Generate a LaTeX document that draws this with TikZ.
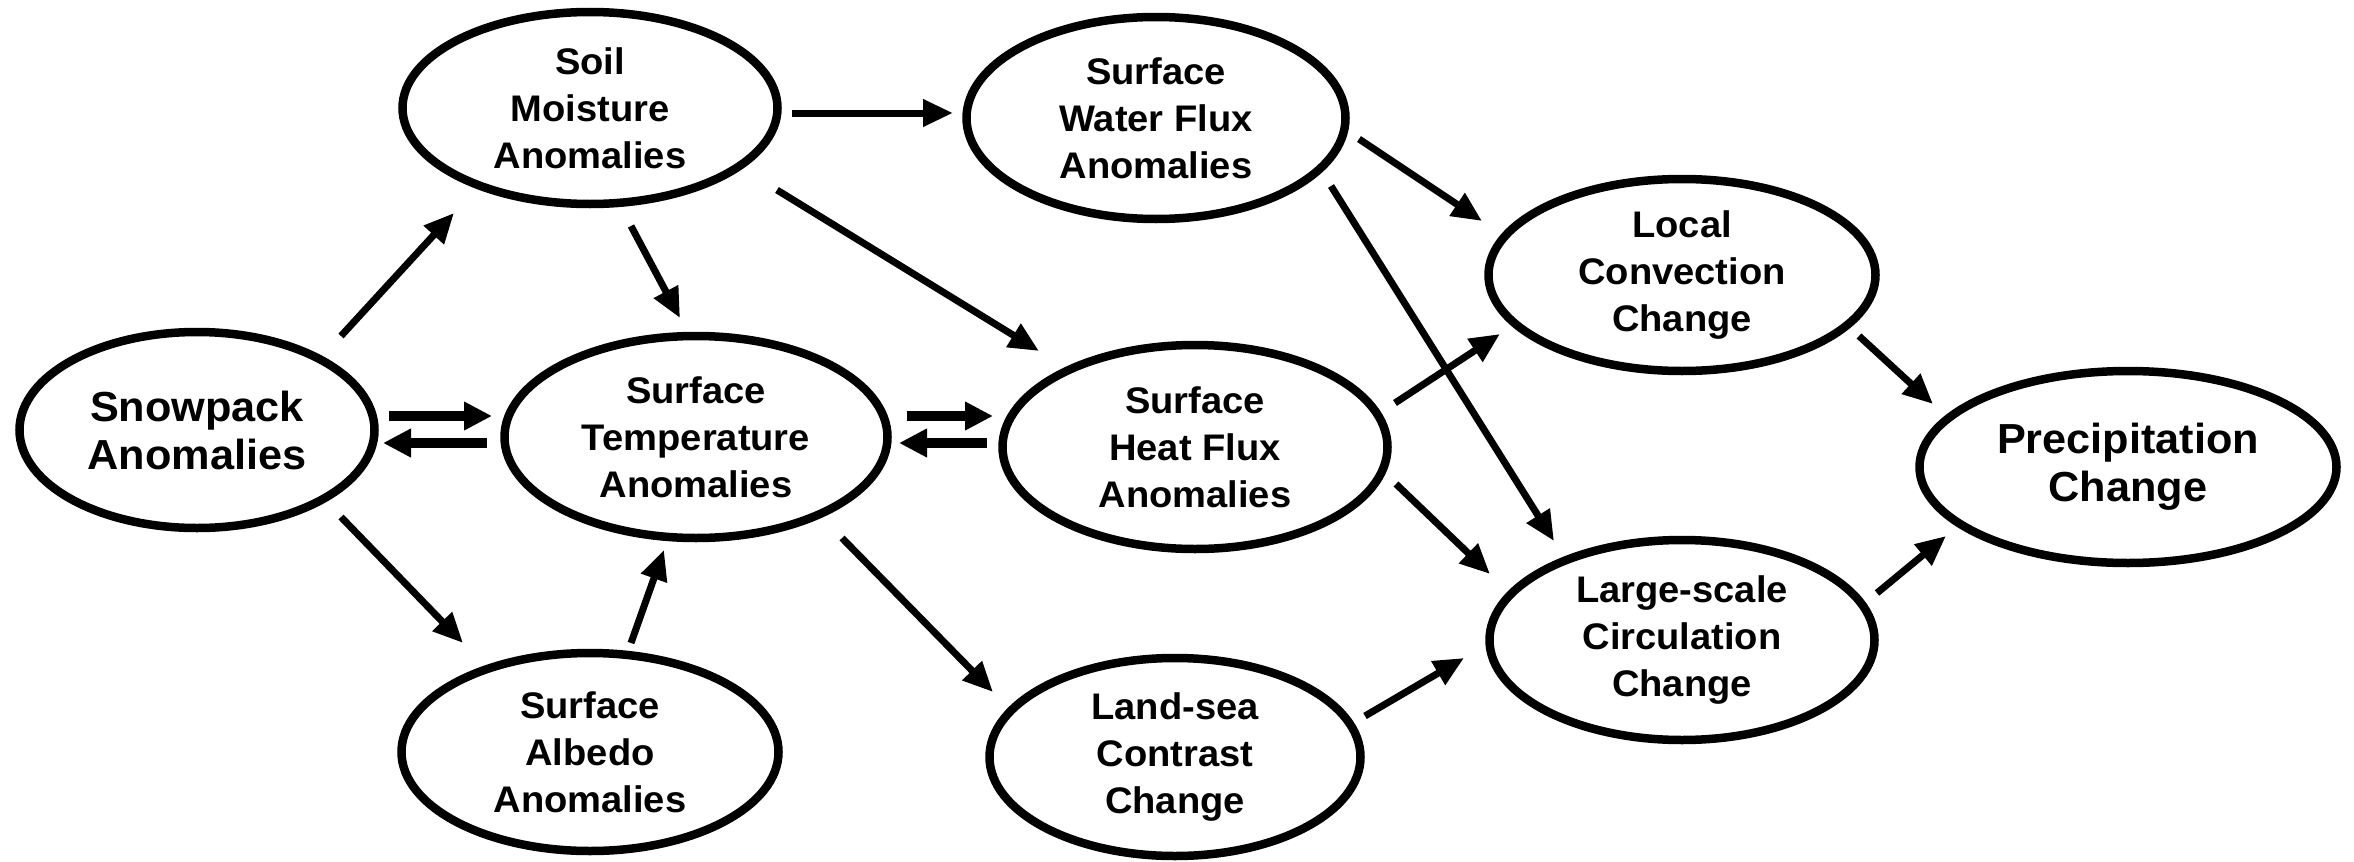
\documentclass[tikz,border=0pt]{standalone}
\usepackage{fontspec}
\newfontfamily\labfont{Liberation Sans}[FakeStretch=1.03]
\usetikzlibrary{shapes.geometric,arrows.meta,calc}
\tikzset{
  ell/.style={draw=black, line width=8.5pt, ellipse, inner sep=0pt},
  lab/.style={align=center, inner sep=0pt, font=\labfont\bfseries\fontsize{37}{47}\selectfont},
  biglab/.style={align=center, inner sep=0pt, font=\labfont\bfseries\fontsize{42}{48}\selectfont},
  arr/.style={line width=7pt, -{Triangle[length=30pt,width=26pt]}},
  darr/.style={line width=10pt, -{Triangle[length=28pt,width=27pt]}},
}
\begin{document}
\begin{tikzpicture}[x=1pt,y=-1pt]
\useasboundingbox (0,0) rectangle (2354,862);
% ellipses
\node[ell, minimum width=355pt, minimum height=196pt] (snow) at (197,430) {};
\node[ell, minimum width=375pt, minimum height=192pt] (soil) at (590,108) {};
\node[ell, minimum width=379pt, minimum height=202pt] (water) at (1156,118) {};
\node[ell, minimum width=383pt, minimum height=202pt] (temp) at (696,437) {};
\node[ell, minimum width=385pt, minimum height=204pt] (heat) at (1195,447) {};
\node[ell, minimum width=377pt, minimum height=198pt] (albedo) at (590,752) {};
\node[ell, minimum width=371pt, minimum height=198pt] (land) at (1175,757) {};
\node[ell, minimum width=387pt, minimum height=192pt] (local) at (1682,275) {};
\node[ell, minimum width=385pt, minimum height=200pt] (large) at (1682,640) {};
\node[ell, minimum width=417pt, minimum height=192pt] (precip) at (2128,467) {};
% labels
\node[biglab] (snow-t) at (snow) {Snowpack\\Anomalies};
\node[lab] (soil-t) at (soil) {Soil\\Moisture\\Anomalies};
\node[lab] (water-t) at (water) {Surface\\Water Flux\\Anomalies};
\node[lab] (temp-t) at (temp) {Surface\\Temperature\\Anomalies};
\node[lab] (heat-t) at (heat) {Surface\\Heat Flux\\Anomalies};
\node[lab] (albedo-t) at (albedo) {Surface\\Albedo\\Anomalies};
\node[lab] (land-t) at (land) {Land-sea\\Contrast\\Change};
\node[lab] (local-t) at (local) {Local\\Convection\\Change};
\node[lab] (large-t) at (large) {Large-scale\\Circulation\\Change};
\node[biglab] (precip-t) at (precip) {Precipitation\\Change};
% connectors
\draw[arr] ($(snow)+(144,-94)$) -- ($(soil)+(-136,105)$);
\draw[darr] ($(snow)+(192,-14)$) -- ($(temp)+(-204,-21)$);
\draw[darr] ($(temp)+(-209,6)$) -- ($(snow)+(186,13)$);
\draw[arr] ($(snow)+(144,87)$) -- ($(albedo)+(-127,-109)$);
\draw[arr] ($(soil)+(41,118)$) -- ($(temp)+(-16,-119)$);
\draw[arr] ($(soil)+(187,82)$) -- ($(heat)+(-156,-96)$);
\draw[arr] ($(soil)+(202,5)$) -- ($(water)+(-203,-5)$);
\draw[arr] ($(albedo)+(41,-109)$) -- ($(temp)+(-32,113)$);
\draw[darr] ($(temp)+(211,-21)$) -- ($(heat)+(-202,-31)$);
\draw[darr] ($(heat)+(-208,-4)$) -- ($(temp)+(203,6)$);
\draw[arr] ($(temp)+(146,101)$) -- ($(land)+(-182,-65)$);
\draw[arr] ($(water)+(203,21)$) -- ($(local)+(-200,-54)$);
\draw[arr] ($(water)+(175,68)$) -- ($(large)+(-128,-99)$);
\draw[arr] ($(heat)+(200,-44)$) -- ($(local)+(-182,59)$);
\draw[arr] ($(heat)+(201,37)$) -- ($(large)+(-192,-66)$);
\draw[arr] ($(land)+(190,-41)$) -- ($(large)+(-218,18)$);
\draw[arr] ($(local)+(177,61)$) -- ($(precip)+(-195,-63)$);
\draw[arr] ($(large)+(195,-47)$) -- ($(precip)+(-182,69)$);
\end{tikzpicture}
\end{document}
